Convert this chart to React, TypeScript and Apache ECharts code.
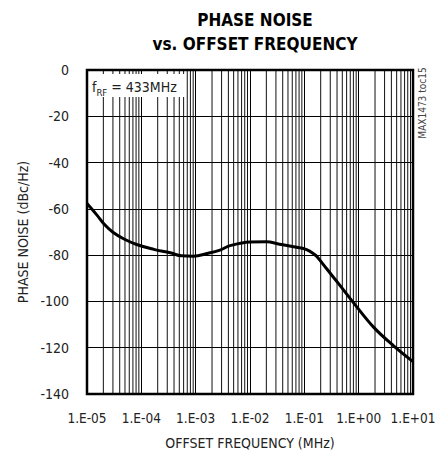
import React, { useEffect, useRef } from "react";
import * as echarts from "echarts";

const FONT = "'DejaVu Sans Condensed', 'Liberation Sans Narrow', 'Arial Narrow', sans-serif";

// offset frequency (MHz) and phase noise (dBc/Hz)
const freqMHz = [
  1e-5, 1.5e-5, 2.1e-5, 3e-5, 4.7e-5, 8.2e-5, 1.7e-4, 3.4e-4, 5.5e-4, 9e-4,
  1.7e-3, 2.8e-3, 4.3e-3, 1e-2, 2e-2, 3.5e-2, 7.2e-2, 0.11, 0.15, 0.17,
  0.26, 0.46, 0.8, 1.86, 4.4, 10,
];
const phaseNoise = [
  -57.7, -62.5, -66.8, -70.1, -72.9, -75.4, -77.5, -79.0, -80.3, -80.5,
  -79.2, -77.8, -75.9, -74.3, -74.2, -75.3, -76.6, -77.6, -79.5, -80.6,
  -86.0, -93.3, -100.5, -111.0, -119.2, -126.0,
];

const xTickLabels = ["1.E-05", "1.E-04", "1.E-03", "1.E-02", "1.E-01", "1.E+00", "1.E+01"];
const decadeExponents = [-5, -4, -3, -2, -1, 0, 1];
const yTicks = [0, -20, -40, -60, -80, -100, -120, -140];

export default function App() {
  const ref = useRef<HTMLDivElement>(null);

  useEffect(() => {
    document.body.style.margin = "0";
    if (!ref.current) return;
    const chart = echarts.init(ref.current, null, { renderer: "svg" });

    // minor log grid positions (2..9 within each decade)
    const minorGrid: number[] = [];
    for (let d = -5; d < 1; d++) {
      for (let m = 2; m <= 9; m++) minorGrid.push(m * Math.pow(10, d));
    }

    const data = freqMHz.map((f, i) => [f, phaseNoise[i]]);

    chart.setOption({
      animation: false,
      backgroundColor: "#fff",
      title: {
        text: "PHASE NOISE\nvs. OFFSET FREQUENCY",
        left: 250,
        textAlign: "center",
        top: 3,
        textStyle: {
          fontFamily: FONT,
          fontWeight: "bold",
          fontSize: 17,
          lineHeight: 24,
          color: "#000",
        },
      },
      grid: {
        left: 87,
        right: 31,
        top: 70,
        bottom: 60,
        show: true,
        borderColor: "#000",
        borderWidth: 2.5,
        backgroundColor: "transparent",
        z: 3,
      },
      xAxis: {
        type: "log",
        logBase: 10,
        min: 1e-5,
        max: 10,
        interval: 1,
        name: "OFFSET FREQUENCY (MHz)",
        nameLocation: "middle",
        nameGap: 42,
        nameTextStyle: { fontFamily: FONT, fontSize: 14, color: "#222" },
        axisLine: { show: false },
        axisTick: { show: false },
        axisLabel: {
          margin: 17,
          fontFamily: FONT,
          fontSize: 13.5,
          color: "#222",
          formatter: (v: number) => {
            const e = Math.round(Math.log10(v));
            const idx = decadeExponents.indexOf(e);
            return idx >= 0 ? xTickLabels[idx] : "";
          },
        },
        splitLine: { show: true, lineStyle: { color: "#000", width: 1 } },
      },
      yAxis: {
        type: "value",
        min: -140,
        max: 0,
        interval: 20,
        name: "PHASE NOISE (dBc/Hz)",
        nameLocation: "middle",
        nameGap: 55,
        nameTextStyle: { fontFamily: FONT, fontSize: 14, color: "#222" },
        axisLine: { show: false },
        axisTick: { show: false },
        axisLabel: {
          margin: 18,
          fontFamily: FONT,
          fontSize: 14,
          color: "#222",
          formatter: (v: number) => (yTicks.indexOf(v) >= 0 ? String(v) : ""),
        },
        splitLine: { show: true, lineStyle: { color: "#000", width: 1 } },
      },
      series: [
        {
          type: "custom",
          silent: true,
          z: 1,
          data: minorGrid.map((v) => [v]),
          renderItem: (_params: any, api: any) => {
            const v = api.value(0);
            const p1 = api.coord([v, 0]);
            const p2 = api.coord([v, -140]);
            return {
              type: "line",
              shape: { x1: p1[0], y1: p1[1], x2: p2[0], y2: p2[1] },
              style: { stroke: "#111", lineWidth: 1 },
            };
          },
        },
        {
          type: "line",
          data,
          smooth: 0.4,
          showSymbol: false,
          symbol: "none",
          lineStyle: { color: "#000", width: 3 },
          z: 5,
        },
      ],
      graphic: [
        {
          type: "rect",
          shape: { x: 89, y: 74, width: 96, height: 23 },
          style: { fill: "#fff" },
          z: 10,
        },
        {
          type: "text",
          x: 92,
          y: 87,
          z: 11,
          style: {
            text: "{f|f}{s|RF}{n| = 433MHz}",
            verticalAlign: "middle",
            fontFamily: FONT,
            rich: {
              f: { fontFamily: FONT, fontSize: 14, lineHeight: 16, fill: "#222" },
              s: { fontFamily: FONT, fontSize: 9.5, lineHeight: 10, padding: [10, 0, 0, 0], fill: "#222" },
              n: { fontFamily: FONT, fontSize: 14, lineHeight: 16, fill: "#222" },
            },
          },
        },
        {
          type: "text",
          x: 422,
          y: 103,
          rotation: Math.PI / 2,
          style: {
            text: "MAX1473 toc15",
            fontFamily: FONT,
            fontSize: 10,
            fill: "#444",
            align: "center",
            verticalAlign: "middle",
          },
        },
      ],
    });

    return () => chart.dispose();
  }, []);

  return <div ref={ref} style={{ width: 444, height: 455 }} />;
}
